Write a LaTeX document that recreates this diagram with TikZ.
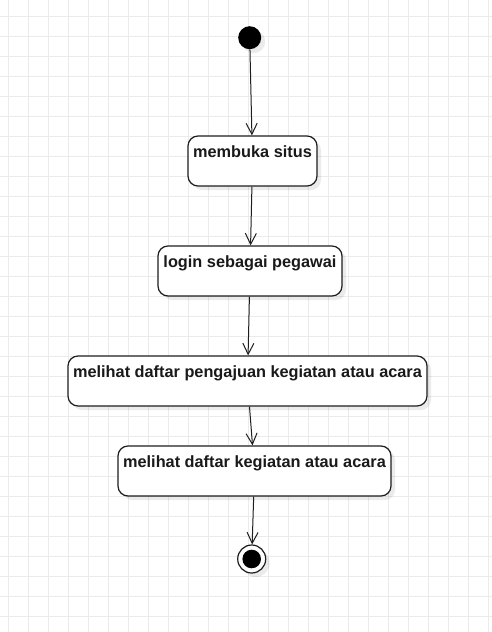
\documentclass[tikz,border=0pt]{standalone}
\usepackage{fontspec}
\setmainfont{Liberation Sans}
\usetikzlibrary{arrows.meta,shadows}
\definecolor{gridc}{RGB}{235,235,235}
\definecolor{linec}{RGB}{30,30,30}
\tikzset{
  actbox/.style={draw=linec, line width=1.2pt, fill=white, rounded corners=10pt,
    inner xsep=0pt, inner ysep=0pt, text height=21pt, text depth=29pt,
    font=\fontsize{16.3}{19}\selectfont\bfseries, text=black!90,
    drop shadow={shadow xshift=4pt, shadow yshift=-4pt, fill=black, opacity=0.08}},
  flow/.style={draw=linec, line width=1pt, -{Straight Barb[length=11pt,width=11pt,line width=1pt]}},
}
\begin{document}
\begin{tikzpicture}[x=1pt,y=-1pt]
\useasboundingbox (0,0) rectangle (492,632);
\fill[white] (0,0) rectangle (492,632);
\foreach \i in {0,...,24} \draw[gridc, line width=1pt] (8+20*\i,0) -- (8+20*\i,632);
\foreach \j in {0,...,30} \draw[gridc, line width=1pt] (0,16+20*\j) -- (492,16+20*\j);

\node[circle, fill=black, minimum size=23pt, inner sep=0pt,
  drop shadow={shadow xshift=4pt, shadow yshift=-4pt, fill=black, opacity=0.08}] (start) at (249.7,37.7) {};

\node[actbox, minimum width=129pt] (b1) at (252.5,161) {membuka situs};
\node[actbox, minimum width=184pt] (b2) at (250,271) {login sebagai pegawai};
\node[actbox, minimum width=359pt] (b3) at (247.5,381) {melihat daftar pengajuan kegiatan atau acara};
\node[actbox, minimum width=273pt] (b4) at (254.5,471) {melihat daftar kegiatan atau acara};

\node[circle, draw=linec, line width=1.2pt, fill=white, minimum size=28pt, inner sep=0pt,
  drop shadow={shadow xshift=4pt, shadow yshift=-4pt, fill=black, opacity=0.08}] (end) at (251.7,559) {};
\fill[black] (end.center) circle[radius=9.3pt];

\draw[flow] (start) -- (b1);
\draw[flow] (b1) -- (b2);
\draw[flow] (b2) -- (b3);
\draw[flow] (b3) -- (b4);
\draw[flow] (b4) -- (end);
\end{tikzpicture}
\end{document}
